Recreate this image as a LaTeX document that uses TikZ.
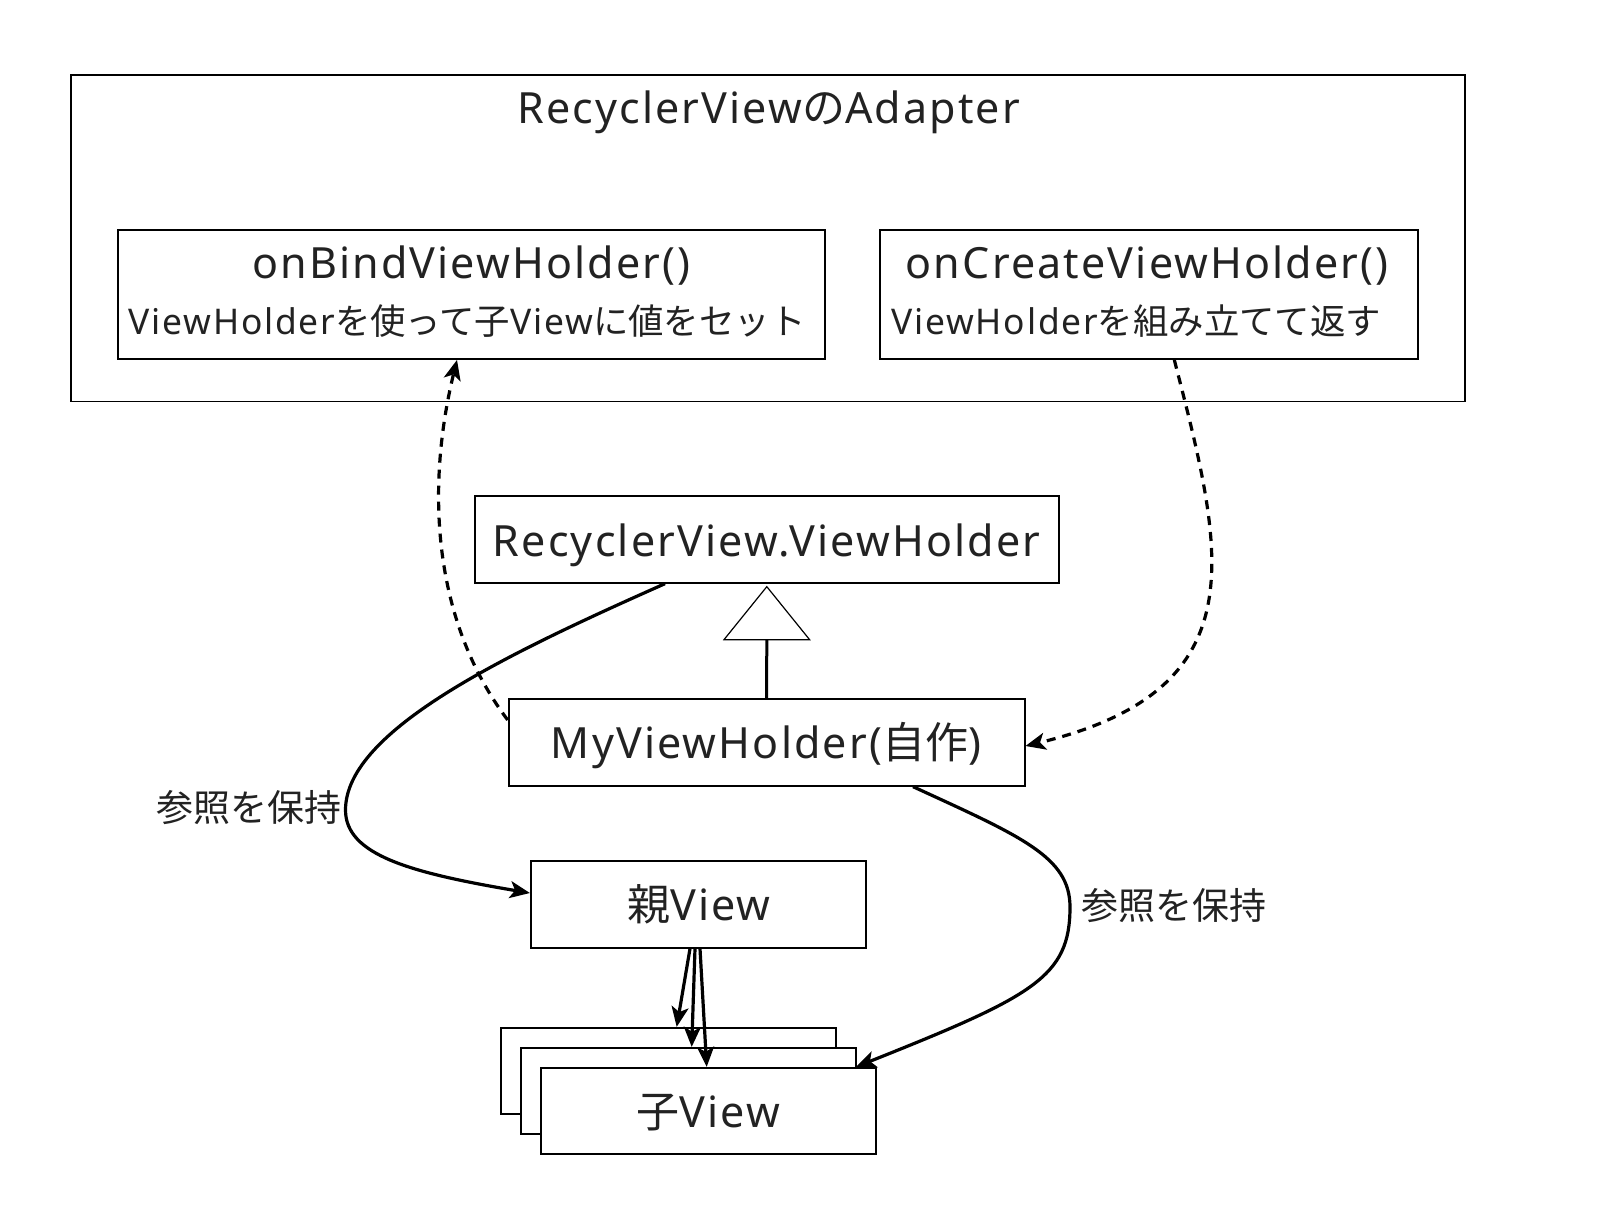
\documentclass[tikz,border=0pt]{standalone}
\usepackage{fontspec}
\setmainfont{Noto Sans}[LetterSpace=5.0]
\newfontfamily\jp{Noto Sans CJK JP}
\usetikzlibrary{arrows.meta,calc}
\definecolor{txt}{RGB}{34,34,34}
\tikzset{
  box/.style={draw=black,line width=0.9pt,fill=white,inner sep=0pt},
  outerbox/.style={draw=black,line width=0.65pt,inner sep=0pt},
  big/.style={font=\fontsize{21.5pt}{26pt}\selectfont,text=txt,inner sep=0pt,anchor=base},
  small/.style={font=\fontsize{17.7pt}{21pt}\selectfont,text=txt,inner sep=0pt,anchor=base},
  lbl/.style={font=\fontsize{18.5pt}{22pt}\selectfont\jp,text=txt,inner sep=0pt},
  conn/.style={line width=1.6pt,-{Stealth[length=10pt,width=8.5pt,inset=2.5pt]}},
  dconn/.style={conn,dash pattern=on 4.5pt off 3.5pt},
}
\begin{document}
\begin{tikzpicture}[x=0.5pt,y=-0.5pt]
\useasboundingbox (0,0) rectangle (1624,1212);
% boxes
\node[outerbox,minimum width=697pt,minimum height=163.35pt] (adapter) at (768,238.4) {};
\node[box,minimum width=353.5pt,minimum height=64.5pt] (onbind) at (471.5,294.5) {};
\node[box,minimum width=269pt,minimum height=64.5pt] (oncreate) at (1149,294.5) {};
\node[box,minimum width=292.2pt,minimum height=43.35pt] (rvvh) at (766.8,539.4) {};
\node[box,minimum width=258pt,minimum height=43.35pt] (myvh) at (766.6,742.4) {};
\node[box,minimum width=167.6pt,minimum height=43.35pt] (pv) at (698.4,904.4) {};
\node[box,minimum width=167.6pt,minimum height=43.25pt] (cb) at (668.4,1071) {};
\node[box,minimum width=167.6pt,minimum height=43.25pt] (cm) at (688.4,1091) {};
\node[box,minimum width=167.6pt,minimum height=43.25pt] (cf) at (708.4,1111) {};
% texts
\node[big] (tadapter) at (768.7,123.5) {RecyclerView{\jp の}Adapter};
\node[big] (tonbind) at (471.5,278) {onBindViewHolder()};
\node[small] (sonbind) at (467,334) {ViewHolder{\jp を使って子}View{\jp に値をセット}};
\node[big] (toncreate) at (1147.3,278) {onCreateViewHolder()};
\node[small,anchor=base west] (soncreate) at (891,334) {ViewHolder{\jp を組み立てて返す}};
\node[big] (trvvh) at (766.6,556) {RecyclerView.ViewHolder};
\node[big] (tmyvh) at (766,758) {MyViewHolder({\jp 自作})};
\node[big] (tpv) at (699,920) {{\jp 親}View};
\node[big] (tcf) at (708.6,1127) {{\jp 子}View};
\node[lbl] (l1) at (248.6,807.5) {参照を保持};
\node[lbl] (l2) at (1173.8,905.5) {参照を保持};
% inheritance
\coordinate (triA) at ([yshift=-1.5pt]rvvh.south);
\draw[line width=0.6pt,fill=white] (triA) -- ++(-21.4pt,-26.5pt) coordinate (triL) -- ++(42.8pt,0pt) coordinate (triR) -- cycle;
\coordinate (triB) at ($(triL)!0.5!(triR)$);
\draw[line width=1.5pt] (triB) -- (myvh.north);
% dashed arrows
\draw[dconn] ([yshift=11.2pt]myvh.west) .. controls (425,610) and (430,470) .. ([xshift=-7.25pt]onbind.south);
\draw[dconn] ([xshift=12.65pt]oncreate.south) .. controls (1224.8,555.4) and (1258.8,689.5) .. ([yshift=-1.8pt]myvh.east);
% reference curves
\draw[conn] ([xshift=-50.9pt]rvvh.south) .. controls (509,653) and (345.5,730) .. (345.5,810) .. controls (345.5,855) and (410.2,872.7) .. ([yshift=5.7pt]pv.west);
\draw[conn] ([xshift=73.2pt]myvh.south) .. controls (1022,836.7) and (1070,857) .. (1070,907) .. controls (1070,977) and (1033.8,996) .. ([xshift=73.8pt]cf.north);
% parent to children
\draw[conn] ([xshift=-4.2pt]pv.south) -- ([xshift=4.15pt]cb.north);
\draw[conn] ([xshift=-1.7pt]pv.south) -- ([xshift=1.65pt]cm.north);
\draw[conn] ([xshift=0.8pt]pv.south) -- ([xshift=-0.85pt]cf.north);
\end{tikzpicture}
\end{document}
